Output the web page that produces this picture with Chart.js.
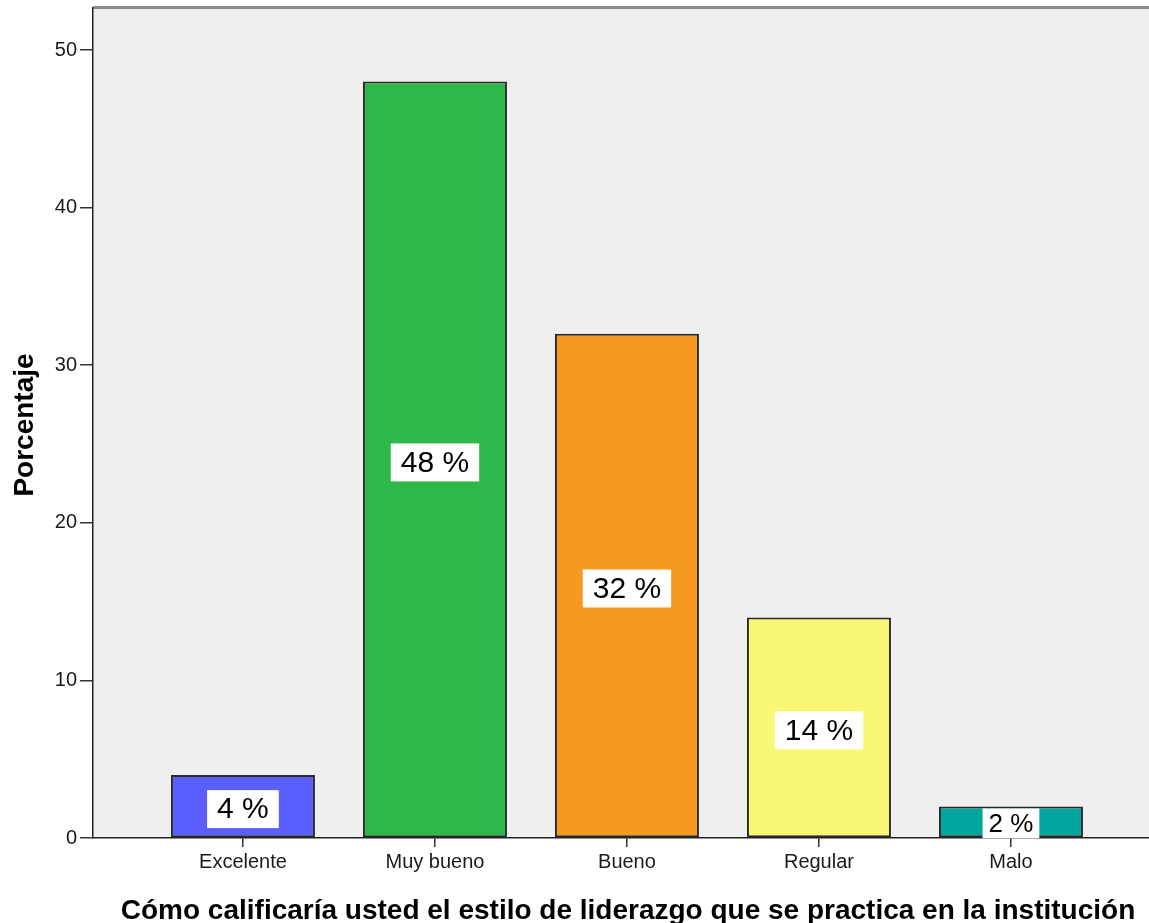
<!DOCTYPE html>
<html>
<head>
<meta charset="utf-8">
<script src="https://cdn.jsdelivr.net/npm/chart.js@4.4.1/dist/chart.umd.min.js"></script>
<style>
html,body{margin:0;padding:0;background:#fff;overflow:hidden;}
#wrap{width:1149px;height:923px;position:relative;}
</style>
</head>
<body>
<div id="wrap"><canvas id="c" width="1149" height="923"></canvas></div>
<script>
const categories = ["Excelente", "Muy bueno", "Bueno", "Regular", "Malo"];
const percentages = [4, 48, 32, 14, 2];
const barColors = ["#5B5FFF", "#2FB84A", "#F7991F", "#FAF775", "#00A69E"];
const yTicks = [0, 10, 20, 30, 40, 50];
const yTitle = "Porcentaje";
const xTitle = "Cómo calificaría usted el estilo de liderazgo que se practica en la institución";

const points = percentages.map((v, i) => ({x: i, y: v}));
const FONT = '"Liberation Sans", Arial, sans-serif';

const bgPlugin = {
  id: 'bg',
  beforeDraw(chart) {
    const {ctx, chartArea: a} = chart;
    ctx.save();
    ctx.fillStyle = '#EFEFEF';
    ctx.fillRect(a.left, a.top, a.right - a.left, a.bottom - a.top);
    ctx.fillStyle = '#8A8A8A';
    ctx.fillRect(a.left, a.top - 2, a.right - a.left, 3);
    ctx.restore();
  }
};

const titlePlugin = {
  id: 'titles',
  afterDraw(chart) {
    const {ctx, chartArea: a} = chart;
    ctx.save();
    ctx.fillStyle = '#000';
    ctx.font = 'bold 28px ' + FONT;
    ctx.textAlign = 'center';
    ctx.textBaseline = 'alphabetic';
    ctx.fillText(xTitle, 628, 919);
    ctx.translate(33, (a.top + a.bottom) / 2 + 2);
    ctx.rotate(-Math.PI / 2);
    ctx.fillText(yTitle, 0, 0);
    ctx.restore();
  }
};

const labelPlugin = {
  id: 'labels',
  afterDatasetsDraw(chart) {
    const {ctx} = chart;
    const meta = chart.getDatasetMeta(0);
    ctx.save();
    ctx.textAlign = 'center';
    ctx.textBaseline = 'middle';
    meta.data.forEach((bar, i) => {
      const txt = percentages[i] + ' %';
      const top = bar.y, bottom = bar.base;
      const h = bottom - top;
      const small = h < 40;
      ctx.font = (small ? '26px ' : '30px ') + FONT;
      const cy = (top + bottom) / 2 + (small ? 1.5 : 3);
      const tw = ctx.measureText(txt).width;
      const bw = tw + (small ? 12 : 20);
      let bh = 38;
      if (bh > h - 1) bh = h - 1;
      ctx.fillStyle = '#FFFFFF';
      ctx.fillRect(bar.x - bw / 2, cy - bh / 2, bw, bh);
      ctx.fillStyle = '#000000';
      ctx.fillText(txt, bar.x, cy + 1);
    });
    ctx.restore();
  }
};

new Chart(document.getElementById('c'), {
  type: 'bar',
  data: {
    datasets: [{
      data: points,
      backgroundColor: barColors,
      borderColor: '#2A2A2A',
      borderWidth: 2,
      borderSkipped: false,
      categoryPercentage: 0.75,
      barPercentage: 1.0
    }]
  },
  options: {
    responsive: false,
    animation: false,
    layout: {padding: {top: 8, right: 0, left: 0, bottom: 0}},
    plugins: {legend: {display: false}, tooltip: {enabled: false}},
    scales: {
      x: {
        type: 'linear',
        offset: false,
        min: -0.781,
        max: 4.719,
        afterBuildTicks(scale) { scale.ticks = categories.map((c, i) => ({value: i})); },
        afterFit(scale) { scale.height = 85; scale.paddingLeft = 0; scale.paddingRight = 0; },
        grid: {display: true, offset: false, drawOnChartArea: false, tickLength: 9, tickColor: '#333', lineWidth: 1.5},
        border: {display: true, color: '#222', width: 1.5},
        ticks: {
          autoSkip: false,
          maxRotation: 0,
          padding: 3,
          color: '#1a1a1a',
          font: {family: FONT, size: 20},
          callback: (v) => categories[v] !== undefined ? categories[v] : ''
        },
        title: {display: false}
      },
      y: {
        type: 'linear',
        min: 0,
        max: 52.67,
        afterBuildTicks(scale) { scale.ticks = yTicks.map(v => ({value: v})); },
        afterFit(scale) { scale.width = 93; scale.paddingTop = 0; scale.paddingBottom = 0; },
        grid: {display: true, drawOnChartArea: false, tickLength: 13, tickColor: '#333', lineWidth: 1.5},
        border: {display: true, color: '#222', width: 1.5},
        ticks: {
          padding: 3,
          color: '#1a1a1a',
          font: {family: FONT, size: 20}
        },
        title: {display: false}
      }
    }
  },
  plugins: [bgPlugin, labelPlugin, titlePlugin]
});
</script>
</body>
</html>
